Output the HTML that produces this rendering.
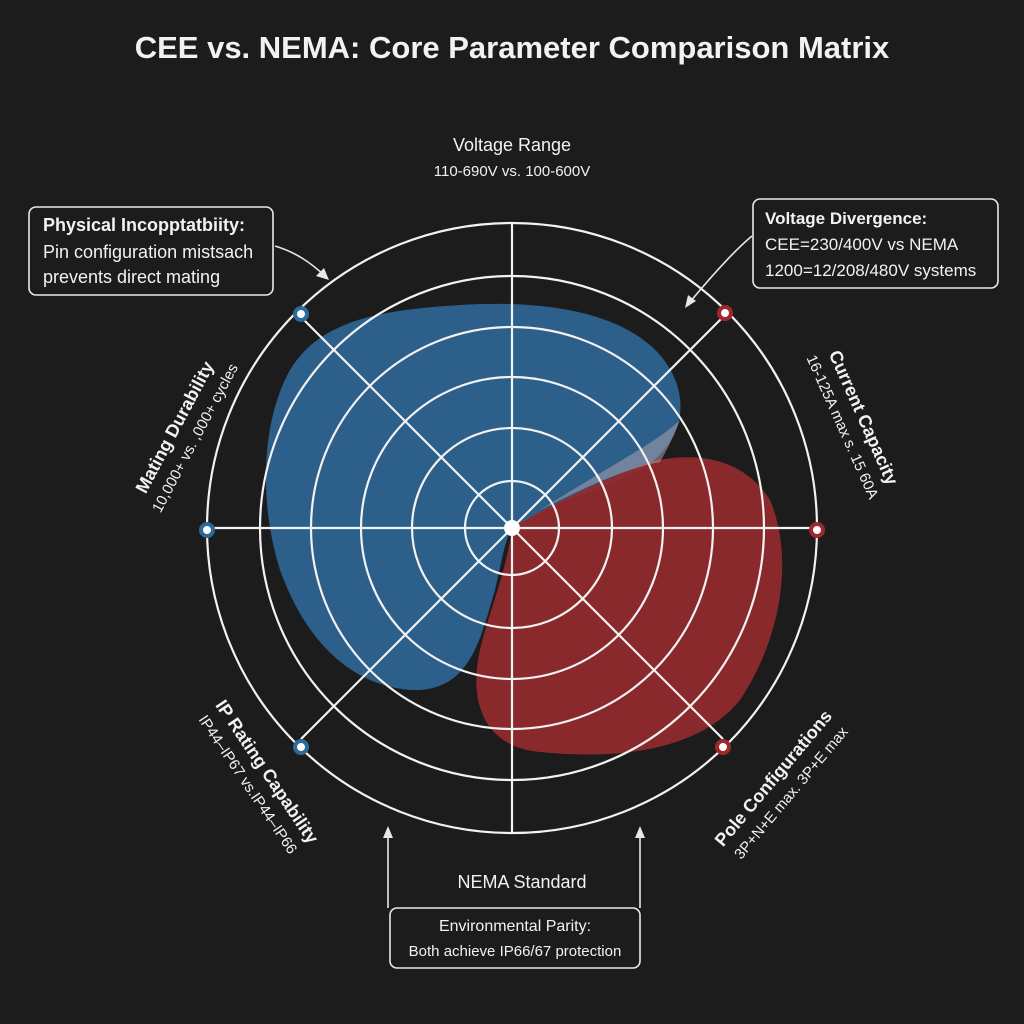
<!DOCTYPE html>
<html><head><meta charset="utf-8"><style>
html,body{margin:0;padding:0;background:#1c1c1c;}
svg{display:block}
text{font-family:"Liberation Sans",sans-serif;fill:#f2f2f2}
</style></head><body>
<svg width="1024" height="1024" viewBox="0 0 1024 1024" xmlns="http://www.w3.org/2000/svg">
<rect width="1024" height="1024" fill="#1c1c1c"/>
<text x="512" y="58" font-size="31" font-weight="bold" text-anchor="middle">CEE vs. NEMA: Core Parameter Comparison Matrix</text>
<text x="512" y="151" font-size="18" text-anchor="middle">Voltage Range</text>
<text x="512" y="176" font-size="15" text-anchor="middle">110-690V vs. 100-600V</text>

<path d="M512,528 C560,500 600,490 640,470 C690,440 690,390 660,355 C620,310 540,300 460,305 C380,310 320,320 290,370 C262,420 258,500 280,570 C305,640 350,685 410,690 C470,693 480,640 495,590 C502,560 505,540 512,528 Z" fill="#2c5f8a"/>
<path d="M512,528 C550,505 600,480 650,462 C700,450 745,460 770,500 C795,560 780,640 740,700 C700,750 620,760 540,752 C490,748 470,710 478,660 C485,620 505,580 512,528 Z" fill="#922a2d" fill-opacity="0.93"/>
<path d="M540,510 C580,490 620,470 660,462 C670,445 676,430 680,420 C660,440 620,460 540,510 Z" fill="#b8a8b0" fill-opacity="0.5"/>

<g stroke="#f2f2f2" stroke-width="2.2" fill="none">
<circle cx="512" cy="528" r="305"/>
<circle cx="512" cy="528" r="252"/>
<circle cx="512" cy="528" r="201"/>
<circle cx="512" cy="528" r="151"/>
<circle cx="512" cy="528" r="100"/>
<circle cx="512" cy="528" r="47"/>
<line x1="512" y1="223" x2="512" y2="833"/>
<line x1="207" y1="528" x2="817" y2="528"/>
<line x1="301" y1="317" x2="723" y2="739"/>
<line x1="723" y1="317" x2="301" y2="739"/>
</g>
<circle cx="512" cy="528" r="8" fill="#fff"/>
<g stroke-width="4">
<circle cx="301" cy="314" r="6" fill="#fff" stroke="#2c6a9a"/>
<circle cx="207" cy="530" r="6" fill="#fff" stroke="#2c6a9a"/>
<circle cx="301" cy="747" r="6" fill="#fff" stroke="#2c6a9a"/>
<circle cx="725" cy="313" r="6" fill="#fff" stroke="#a0282c"/>
<circle cx="817" cy="530" r="6" fill="#fff" stroke="#a0282c"/>
<circle cx="723" cy="747" r="6" fill="#fff" stroke="#a0282c"/>
</g>

<g stroke="#e8e8e8" stroke-width="1.6" fill="#1c1c1c">
<rect x="29" y="207" width="244" height="88" rx="7"/>
<rect x="753" y="199" width="245" height="89" rx="7"/>
<rect x="390" y="908" width="250" height="60" rx="7"/>
</g>
<text x="43" y="231" font-size="18" font-weight="bold">Physical Incopptatbiity:</text>
<text x="43" y="258" font-size="18">Pin configuration mistsach</text>
<text x="43" y="283" font-size="18">prevents direct mating</text>
<text x="765" y="224" font-size="17" font-weight="bold">Voltage Divergence:</text>
<text x="765" y="250" font-size="17">CEE=230/400V vs NEMA</text>
<text x="765" y="276" font-size="17">1200=12/208/480V systems</text>
<text x="515" y="931" font-size="16" text-anchor="middle">Environmental Parity:</text>
<text x="515" y="956" font-size="15" text-anchor="middle">Both achieve IP66/67 protection</text>
<text x="522" y="888" font-size="18" text-anchor="middle">NEMA Standard</text>

<g stroke="#e8e8e8" stroke-width="1.6" fill="none">
<path d="M275,246 C295,252 310,262 325,276"/>
<path d="M752,236 C735,250 715,272 690,302"/>
<line x1="388" y1="908" x2="388" y2="832"/>
<line x1="640" y1="908" x2="640" y2="832"/>
</g>
<g fill="#e8e8e8">
<polygon points="329,280 316,276 324,268"/>
<polygon points="685,308 688,295 696,301"/>
<polygon points="388,826 383,838 393,838"/>
<polygon points="640,826 635,838 645,838"/>
</g>

<g transform="translate(180,430) rotate(-62)">
<text x="0" y="0" font-size="18" font-weight="bold" text-anchor="middle">Mating Durability</text>
<text x="0" y="22" font-size="15" text-anchor="middle">10,000+ vs. ,000+ cycles</text>
</g>
<g transform="translate(858,420) rotate(66)">
<text x="0" y="0" font-size="18" font-weight="bold" text-anchor="middle">Current Capacity</text>
<text x="0" y="22" font-size="15" text-anchor="middle">16-125A max s. 15 60A</text>
</g>
<g transform="translate(262,775) rotate(56)">
<text x="0" y="0" font-size="18" font-weight="bold" text-anchor="middle">IP Rating Capability</text>
<text x="0" y="22" font-size="15" text-anchor="middle">IP44–IP67 vs.IP44–IP66</text>
</g>
<g transform="translate(778,782) rotate(-50)">
<text x="0" y="0" font-size="18" font-weight="bold" text-anchor="middle">Pole Configurations</text>
<text x="0" y="22" font-size="15" text-anchor="middle">3P+N+E max. 3P+E max</text>
</g>
</svg>
</body></html>
